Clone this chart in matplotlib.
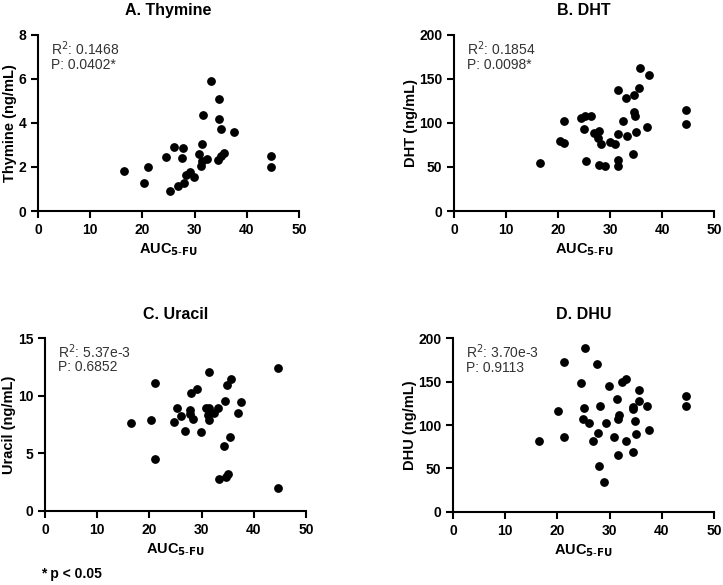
import matplotlib
matplotlib.use('Agg')
import matplotlib.pyplot as plt

plt.rcParams['font.family'] = ['Liberation Sans', 'DejaVu Sans']

# Panel A: Thymine
thy_x = [16.4, 20.3, 21.1, 24.6, 25.3, 26.1, 26.8, 27.7, 27.5, 27.9, 28.3, 29.1, 29.8,
         30.9, 31.4, 31.6, 31.3, 31.4, 32.4, 33.1, 34.5, 34.6, 34.6, 35.1, 35.1, 35.6,
         37.5, 44.7, 44.7]
thy_y = [1.82, 1.29, 2.0, 2.44, 0.9, 2.93, 1.15, 2.85, 2.4, 1.27, 1.62, 1.79, 1.56,
         2.58, 3.05, 4.37, 2.03, 2.25, 2.38, 5.92, 2.31, 5.07, 4.16, 2.52, 3.72, 2.64,
         3.57, 2.5, 2.0]

# Panel B: DHT
dht_x = [16.5, 20.3, 21.2, 21.2, 24.4, 24.9, 25.2, 25.3, 26.3, 27.0, 27.9, 27.6, 28.3,
         27.9, 29.1, 29.9, 30.9, 31.5, 31.6, 31.5, 31.5, 32.4, 33.1, 33.2, 34.6, 34.4,
         34.6, 34.8, 34.9, 35.6, 35.7, 37.1, 37.5, 44.6, 44.6]
dht_y = [55, 80, 102.6, 77, 105.8, 93.7, 107.4, 57.3, 107.4, 88.4, 90.7, 82.7, 76.3,
         52, 50.9, 78.9, 75.9, 88, 137.8, 58, 51.6, 102.8, 127.9, 85, 132, 64.5,
         113, 107.8, 90, 139.7, 162.8, 95.6, 155, 114.2, 99]

# Panel C: Uracil
ura_x = [16.5, 20.3, 21.1, 21.1, 24.8, 25.2, 26.1, 26.9, 27.7, 27.7, 28.0, 28.4, 29.1,
         29.8, 30.9, 31.4, 31.5, 31.3, 31.5, 32.4, 33.1, 33.3, 34.5, 34.3, 34.7, 35.1,
         34.9, 35.4, 35.7, 37.0, 37.5, 44.7, 44.6]
ura_y = [7.67, 7.87, 11.08, 4.47, 7.73, 8.91, 8.22, 6.95, 8.8, 8.39, 10.24, 7.99, 10.59,
         6.89, 8.91, 12.06, 8.97, 8.34, 7.87, 8.51, 8.94, 2.74, 9.52, 5.6, 2.91, 3.2,
         10.96, 6.43, 11.42, 8.51, 9.46, 12.43, 2.02]

# Panel D: DHU
dhu_x = [16.5, 20.2, 21.2, 21.2, 24.6, 24.9, 25.1, 25.3, 26.1, 26.9, 27.6, 27.7, 28.2,
         27.9, 29.0, 29.3, 29.8, 30.9, 31.5, 31.7, 31.6, 31.6, 32.4, 33.1, 33.2, 34.4,
         34.5, 34.9, 35.1, 35.6, 35.7, 37.1, 37.6, 34.4, 44.6, 44.6]
dhu_y = [81.6, 115.7, 172, 86.2, 147.9, 106.9, 119.9, 188.9, 102.3, 81.6, 170.5, 91.2, 122.2,
         53.3, 34.5, 102.3, 145.2, 85.8, 129.9, 111.1, 107.3, 65.9, 149.4, 153.3, 82.0, 118.8,
         120.3, 104.6, 89.7, 128, 140.6, 121.5, 94.6, 68.6, 133, 121.8]

titles = ['A. Thymine', 'B. DHT', 'C. Uracil', 'D. DHU']
ylabels = ['Thymine (ng/mL)', 'DHT (ng/mL)', 'Uracil (ng/mL)', 'DHU (ng/mL)']
r2_text = ['0.1468', '0.1854', '5.37e-3', '3.70e-3']
p_text = ['0.0402*', '0.0098*', '0.6852', '0.9113']
ymax = [8, 200, 15, 200]
ystep = [2, 50, 5, 50]
xs = [thy_x, dht_x, ura_x, dhu_x]
ys = [thy_y, dht_y, ura_y, dhu_y]

# axes boxes in figure fractions
boxes = [[0.0526, 0.6393, 0.361, 0.301],
         [0.628, 0.6393, 0.3596, 0.301],
         [0.0622, 0.1265, 0.361, 0.2957],
         [0.6266, 0.1248, 0.361, 0.2974]]

fig = plt.figure(figsize=(7.23, 5.85), dpi=100)

for i in range(4):
    ax = fig.add_axes(boxes[i])
    ax.scatter(xs[i], ys[i], s=28, color='black', zorder=3, clip_on=False)
    ax.set_xlim(0, 50)
    ax.set_ylim(0, ymax[i])
    ax.set_xticks(range(0, 51, 10))
    ax.set_yticks(range(0, ymax[i] + 1, ystep[i]))
    for s in ['top', 'right']:
        ax.spines[s].set_visible(False)
    for s in ['left', 'bottom']:
        ax.spines[s].set_linewidth(1.5)
    ax.tick_params(width=1.5, length=5, labelsize=10)
    for lab in ax.get_xticklabels() + ax.get_yticklabels():
        lab.set_fontweight('bold')
    ax.set_title(titles[i], fontsize=11.5, fontweight='bold', pad=14)
    ax.set_ylabel(ylabels[i], fontsize=10.5, fontweight='bold', labelpad=1)
    ax.set_xlabel(r'AUC$_{\mathbf{5\text{-}FU}}$', fontsize=10.5, fontweight='bold', labelpad=3)
    ax.text(0.05, 0.92, 'R$^2$: ' + r2_text[i], transform=ax.transAxes,
            fontsize=10, color='#333333', va='center')
    ax.text(0.05, 0.83, 'P: ' + p_text[i], transform=ax.transAxes,
            fontsize=10, color='#333333', va='center')

fig.text(0.057, 0.012, '* p < 0.05', fontsize=10, fontweight='bold')

fig.savefig('out.png', dpi=100)
